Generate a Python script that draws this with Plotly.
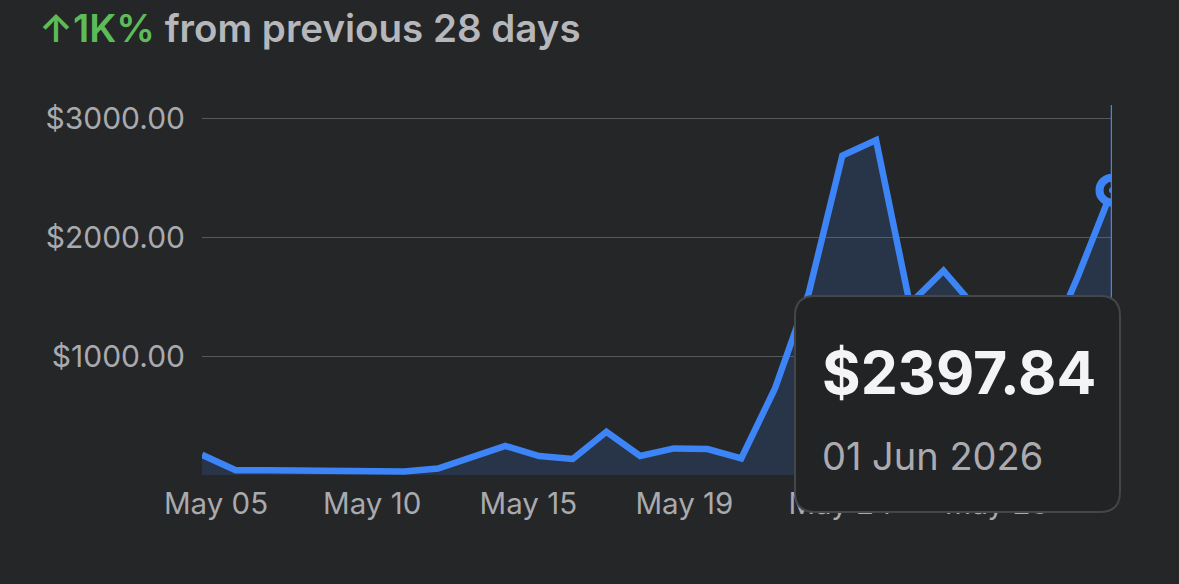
import pandas as pd
import plotly.graph_objects as go

# ---- data ----
dates = pd.date_range("2026-05-05", "2026-06-01", freq="D")
revenue = [170, 40, 40, 40, 40, 30, 30, 55, 150, 245, 160, 135, 364, 160,
           224, 218, 140, 728, 1530, 2690, 2820, 1440, 1720, 1390, 1180, 1020,
           1680, 2397.84]
x_tick_labels = ["May 05", "May 10", "May 15", "May 19", "May 24", "May 28"]
y_tick_vals = [1000, 2000, 3000]
y_tick_text = ["$1000.00", "$2000.00", "$3000.00"]
headline_change = "↑1K%"
headline_rest = " from previous 28 days"
tooltip_value = "$2397.84"
tooltip_date = "01 Jun 2026"

# ---- style ----
BG = "#252628"
BLUE = "#3d84f7"
GRID = "#57585c"
TICK = "#a9aaae"
FONT = "Inter, 'Noto Sans', sans-serif"

W, H = 1179, 584
ML, MR, MT, MB = 202, 67, 105, 109
PW, PH = W - ML - MR, H - MT - MB

def px(xp):
    return (xp - ML) / PW

def py(yp):
    return (H - MB - yp) / PH

# evenly spaced tick labels (as the app places them)
t0 = dates[0]
tick_vals = [t0 + pd.Timedelta(days=0.415 + 4.633 * k) for k in range(len(x_tick_labels))]

fig = go.Figure()
fig.add_trace(go.Scatter(
    x=dates, y=revenue, mode="lines",
    line=dict(color=BLUE, width=6.5, shape="linear"),
    fill="tozeroy", fillcolor="rgba(61,132,247,0.15)",
    hoverinfo="skip", showlegend=False, cliponaxis=True,
))
# highlighted last point
fig.add_trace(go.Scatter(
    x=[dates[-1]], y=[revenue[-1]], mode="markers",
    marker=dict(size=25, color=BG, line=dict(color=BLUE, width=8)),
    hoverinfo="skip", showlegend=False, cliponaxis=True,
))
fig.add_trace(go.Scatter(
    x=[dates[-1]], y=[revenue[-1]], mode="markers",
    marker=dict(size=6, color=BLUE),
    hoverinfo="skip", showlegend=False, cliponaxis=True,
))

# vertical cursor line
fig.add_shape(type="line", xref="x", yref="paper",
              x0=dates[-1], x1=dates[-1], y0=0, y1=1,
              line=dict(color=BLUE, width=2.5), layer="above")

# tooltip box (rounded rect in paper coords)
bx0, bx1, by0, by1, r = 795, 1120, 296, 512, 20
rx, ry = r / PW, r / PH
X0, X1, Y0, Y1 = px(bx0), px(bx1), py(by1), py(by0)
path = (f"M {X0+rx},{Y1} L {X1-rx},{Y1} Q {X1},{Y1} {X1},{Y1-ry} "
        f"L {X1},{Y0+ry} Q {X1},{Y0} {X1-rx},{Y0} "
        f"L {X0+rx},{Y0} Q {X0},{Y0} {X0},{Y0+ry} "
        f"L {X0},{Y1-ry} Q {X0},{Y1} {X0+rx},{Y1} Z")
fig.add_shape(type="path", xref="paper", yref="paper", path=path,
              fillcolor="#222325", line=dict(color="#45464a", width=2),
              layer="above")

fig.add_annotation(xref="paper", yref="paper", x=px(820), y=py(372),
                   xanchor="left", yanchor="middle", showarrow=False,
                   text=tooltip_value,
                   font=dict(family=FONT, size=59, color="#f4f4f6", weight=700))
fig.add_annotation(xref="paper", yref="paper", x=px(820), y=py(456),
                   xanchor="left", yanchor="middle", showarrow=False,
                   text=tooltip_date,
                   font=dict(family=FONT, size=38, color="#ababaf"))

# headline
fig.add_annotation(xref="paper", yref="paper", x=px(37), y=py(28),
                   xanchor="left", yanchor="middle", showarrow=False,
                   text=f"<span style='color:#5cbd58'>{headline_change}</span>{headline_rest}",
                   font=dict(family=FONT, size=38.5, color="#b6b7bb", weight=600))

fig.update_layout(
    width=W, height=H,
    margin=dict(l=ML, r=MR, t=MT, b=MB, pad=0),
    paper_bgcolor=BG, plot_bgcolor=BG,
    font=dict(family=FONT, color=TICK),
    xaxis=dict(
        range=[dates[0], dates[-1]], showgrid=False, zeroline=False,
        showline=False, ticks="", tickvals=tick_vals, ticktext=x_tick_labels,
        tickfont=dict(size=29.5, color=TICK), ticklabelstandoff=8,
        fixedrange=True,
    ),
    yaxis=dict(
        range=[0, 3115], showgrid=True, gridcolor=GRID, gridwidth=1,
        zeroline=False, showline=False, ticks="",
        tickvals=y_tick_vals, ticktext=y_tick_text,
        tickfont=dict(size=30, color=TICK), ticklabelstandoff=16,
        fixedrange=True,
    ),
)

fig.write_html("out.html", config={"displayModeBar": False})
